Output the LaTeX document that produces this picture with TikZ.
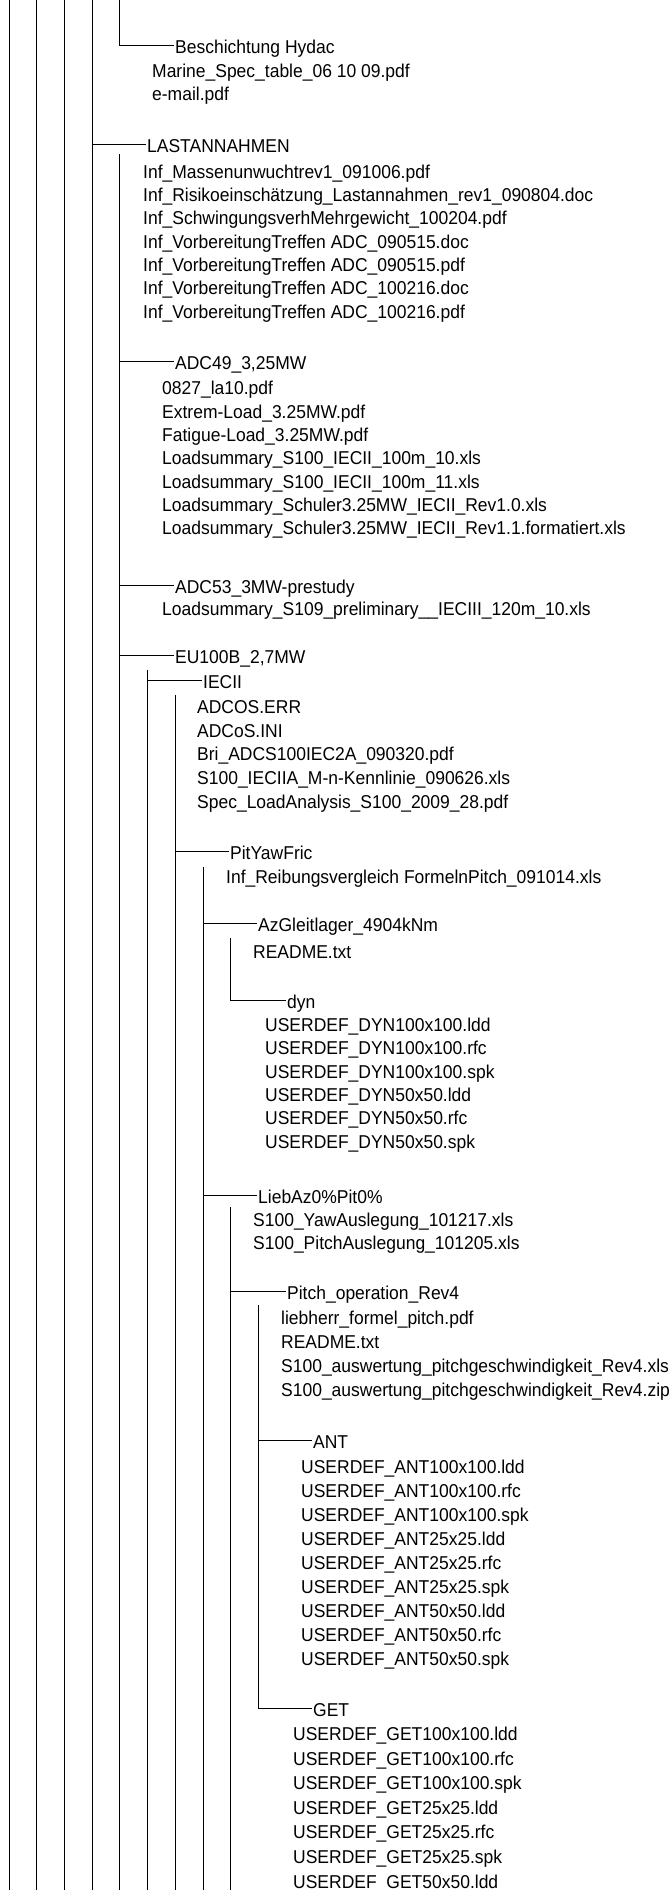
\documentclass[tikz,border=0pt]{standalone}
\usepackage{fontspec}
\setmainfont{Liberation Sans}
\newfontfamily\treefont[FakeStretch=0.94]{Liberation Sans}
\usetikzlibrary{calc}

\begin{document}
\begin{tikzpicture}[
  x=1pt, y=-1pt,
  rail/.style={line width=1pt, black},
  file/.style={anchor=west, inner sep=0pt, text height=16pt, text depth=0pt, font=\treefont\fontsize{18.6}{21}\selectfont},
  folder/.style={file, inner xsep=1.5pt},
]
\useasboundingbox (0,0) rectangle (671,1890);
\coordinate (bot) at (0,1890);
\coordinate (top) at (0,0);

% ====== Folder nodes ======
\node[folder] (hydac)   at (173.5,45.2)  {Beschichtung Hydac};
\node[folder] (lasten)  at (145.5,144.1) {LASTANNAHMEN};
\node[folder] (adc49)   at (173.5,361.8) {ADC49\_3,25MW};
\node[folder] (adc53)   at (173.5,585.2) {ADC53\_3MW-prestudy};
\node[folder] (eu100b)  at (173.5,655.2) {EU100B\_2,7MW};
\node[folder] (iecii)   at (201.5,680.2) {IECII};
\node[folder] (pityaw)  at (228.5,851.8) {PitYawFric};
\node[folder] (azgleit) at (256.5,923.5) {AzGleitlager\_4904kNm};
\node[folder] (dyn)     at (285.5,1000.2) {dyn};
\node[folder] (liebaz)  at (256.5,1195.2) {LiebAz0\%Pit0\%};
\node[folder] (pitchop) at (285.5,1291.8) {Pitch\_operation\_Rev4};
\node[folder] (ant)     at (311.5,1440.2) {ANT};
\node[folder] (get)     at (311.5,1708.5) {GET};

% ====== File lists ======
\node[file] (hydac-1) at (152,69)   {Marine\_Spec\_table\_06 10 09.pdf};
\node[file] (hydac-2) at (152,92.5) {e-mail.pdf};
\foreach \f [count=\i] in {Inf\_Massenunwuchtrev1\_091006.pdf,
    Inf\_Risikoeinschätzung\_Lastannahmen\_rev1\_090804.doc,
    Inf\_SchwingungsverhMehrgewicht\_100204.pdf,
    Inf\_VorbereitungTreffen ADC\_090515.doc,
    Inf\_VorbereitungTreffen ADC\_090515.pdf,
    Inf\_VorbereitungTreffen ADC\_100216.doc,
    Inf\_VorbereitungTreffen ADC\_100216.pdf}
  \node[file] (lasten-\i) at (143,170.2+23.33*\i-23.33) {\f};
\foreach \f [count=\i] in {0827\_la10.pdf,
    Extrem-Load\_3.25MW.pdf,
    Fatigue-Load\_3.25MW.pdf,
    Loadsummary\_S100\_IECII\_100m\_10.xls,
    Loadsummary\_S100\_IECII\_100m\_11.xls,
    Loadsummary\_Schuler3.25MW\_IECII\_Rev1.0.xls,
    Loadsummary\_Schuler3.25MW\_IECII\_Rev1.1.formatiert.xls}
  \node[file] (adc49-\i) at (162,386.8+23.33*\i-23.33) {\f};
\node[file] (adc53-1) at (162,607.5) {Loadsummary\_S109\_preliminary\_\_IECIII\_120m\_10.xls};
\foreach \f [count=\i] in {ADCOS.ERR,
    ADCoS.INI,
    Bri\_ADCS100IEC2A\_090320.pdf,
    S100\_IECIIA\_M-n-Kennlinie\_090626.xls,
    Spec\_LoadAnalysis\_S100\_2009\_28.pdf}
  \node[file] (iecii-\i) at (197,705.5+23.7*\i-23.7) {\f};
\node[file] (pityaw-1) at (226,875.2) {Inf\_Reibungsvergleich FormelnPitch\_091014.xls};
\node[file] (azgleit-1) at (253,950.2) {README.txt};
\foreach \f [count=\i] in {USERDEF\_DYN100x100.ldd,
    USERDEF\_DYN100x100.rfc,
    USERDEF\_DYN100x100.spk,
    USERDEF\_DYN50x50.ldd,
    USERDEF\_DYN50x50.rfc,
    USERDEF\_DYN50x50.spk}
  \node[file] (dyn-\i) at (265,1023.5+23.33*\i-23.33) {\f};
\node[file] (liebaz-1) at (253,1218.5) {S100\_YawAuslegung\_101217.xls};
\node[file] (liebaz-2) at (253,1241.8) {S100\_PitchAuslegung\_101205.xls};
\foreach \f [count=\i] in {liebherr\_formel\_pitch.pdf,
    README.txt,
    S100\_auswertung\_pitchgeschwindigkeit\_Rev4.xls,
    S100\_auswertung\_pitchgeschwindigkeit\_Rev4.zip}
  \node[file] (pitchop-\i) at (281,1316.8+24*\i-24) {\f};
\foreach \f [count=\i] in {USERDEF\_ANT100x100.ldd,
    USERDEF\_ANT100x100.rfc,
    USERDEF\_ANT100x100.spk,
    USERDEF\_ANT25x25.ldd,
    USERDEF\_ANT25x25.rfc,
    USERDEF\_ANT25x25.spk,
    USERDEF\_ANT50x50.ldd,
    USERDEF\_ANT50x50.rfc,
    USERDEF\_ANT50x50.spk}
  \node[file] (ant-\i) at (301,1465.5+24*\i-24) {\f};
\foreach \f [count=\i] in {USERDEF\_GET100x100.ldd,
    USERDEF\_GET100x100.rfc,
    USERDEF\_GET100x100.spk,
    USERDEF\_GET25x25.ldd,
    USERDEF\_GET25x25.rfc,
    USERDEF\_GET25x25.spk,
    USERDEF\_GET50x50.ldd}
  \node[file] (get-\i) at (293,1732.5+24.6*\i-24.6) {\f};

% ====== Rails (vertical lines) ======
\foreach \x in {9.2,36.8,64.4,92}
  \draw[rail] (\x,0) -- (\x,1890);
\coordinate (hydac-rail)   at (119.6,0);
\coordinate (lasten-rail)  at (119.6,154);
\coordinate (eu100b-rail)  at (147.5,670);
\coordinate (iecii-rail)   at (175,695);
\coordinate (pityaw-rail)  at (203,867);
\coordinate (azgleit-rail) at (230.5,938);
\coordinate (liebaz-rail)  at (230.5,1207);
\coordinate (pitchop-rail) at (258,1305);
\coordinate (outer-rail)   at (92,0);

\draw[rail] (hydac-rail) |- (hydac.west);
\draw[rail] (azgleit-rail) |- (dyn.west);
\draw[rail] (pitchop-rail) |- (get.west);
\foreach \r in {lasten,eu100b,iecii,pityaw,liebaz}
  \draw[rail] (\r-rail) -- (\r-rail |- bot);

% ====== Branches ======
\draw[rail] (outer-rail |- lasten.west) -- (lasten.west);
\foreach \n in {adc49,adc53,eu100b}
  \draw[rail] (lasten-rail |- \n.west) -- (\n.west);
\draw[rail] (eu100b-rail |- iecii.west) -- (iecii.west);
\draw[rail] (iecii-rail |- pityaw.west) -- (pityaw.west);
\draw[rail] (pityaw-rail |- azgleit.west) -- (azgleit.west);
\draw[rail] (pityaw-rail |- liebaz.west) -- (liebaz.west);
\draw[rail] (liebaz-rail |- pitchop.west) -- (pitchop.west);
\draw[rail] (pitchop-rail |- ant.west) -- (ant.west);

\end{tikzpicture}
\end{document}
